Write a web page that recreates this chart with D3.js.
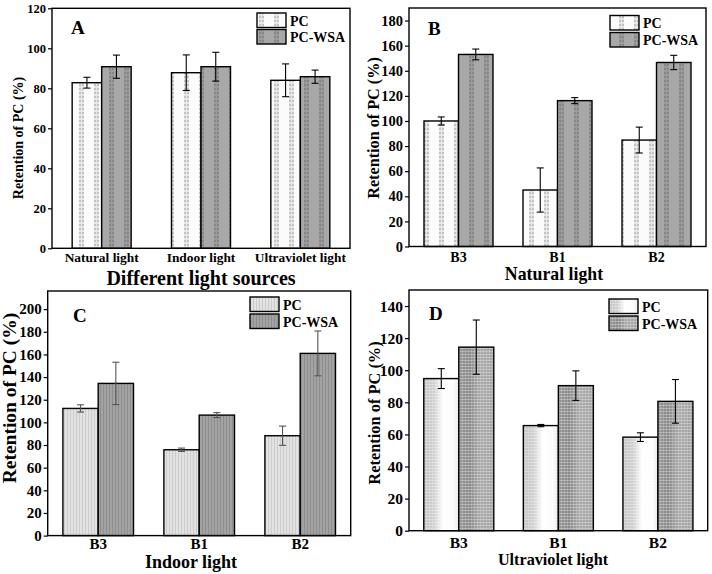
<!DOCTYPE html>
<html>
<head>
<meta charset="utf-8">
<script src="https://cdn.jsdelivr.net/npm/d3@7"></script>
<style>
html,body{margin:0;padding:0;background:#fff;}
svg{display:block;}
text{font-family:"Liberation Serif","Times New Roman",serif;font-weight:bold;fill:#000;}
</style>
</head>
<body>
<svg id="chart" width="712" height="574"></svg>
<script>
// ---------- DATA ----------
const seriesNames = ["PC", "PC-WSA"];

const catA = ["Natural light", "Indoor light", "Ultraviolet light"];
const pcA = [82.8, 87.8, 84.0];
const pcErrA = [2.7, 8.9, 8.2];
const wsaA = [90.8, 90.8, 85.8];
const wsaErrA = [5.8, 7.2, 3.3];
const ticksA = [0, 20, 40, 60, 80, 100, 120];

const catB = ["B3", "B1", "B2"];
const pcB = [100.0, 45.0, 84.8];
const pcErrB = [3.2, 17.6, 10.3];
const wsaB = [153.0, 116.2, 146.6];
const wsaErrB = [4.3, 2.4, 5.7];
const ticksB = [0, 20, 40, 60, 80, 100, 120, 140, 160, 180];

const catC = ["B3", "B1", "B2"];
const pcC = [112.3, 75.8, 88.2];
const pcErrC = [3.2, 1.5, 8.5];
const wsaC = [134.4, 106.4, 160.9];
const wsaErrC = [18.7, 2.2, 19.8];
const ticksC = [0, 20, 40, 60, 80, 100, 120, 140, 160, 180, 200];

const catD = ["B3", "B1", "B2"];
const pcD = [94.8, 65.5, 58.3];
const pcErrD = [6.2, 0.7, 2.7];
const wsaD = [114.4, 90.4, 80.6];
const wsaErrD = [16.9, 9.2, 13.6];
const ticksD = [0, 20, 40, 60, 80, 100, 120, 140];

// ---------- SETUP ----------
const FONT = '"Liberation Serif","Times New Roman",serif';
const svg = d3.select("#chart");
const defs = svg.append("defs");

// Patterns for A/B style (dashed vertical columns)
function dashPattern(id, base, dark, mid) {
  const p = defs.append("pattern").attr("id", id).attr("patternUnits", "userSpaceOnUse")
    .attr("width", 15).attr("height", 4);
  p.append("rect").attr("width", 15).attr("height", 4).attr("fill", base);
  p.append("rect").attr("x", 4).attr("y", 0).attr("width", 5).attr("height", 2).attr("fill", dark);
  p.append("rect").attr("x", 4).attr("y", 2).attr("width", 5).attr("height", 2).attr("fill", mid);
  p.append("rect").attr("x", 6).attr("y", 0).attr("width", 1).attr("height", 4).attr("fill", mid);
}
dashPattern("pcAB", "#fbfbfb", "#c2c2c2", "#e6e6e6");
dashPattern("wsaAB", "#a8a8a8", "#868686", "#9a9a9a");

// Patterns for C (fine vertical lines)
function finePattern(id, base, line) {
  const p = defs.append("pattern").attr("id", id).attr("patternUnits", "userSpaceOnUse")
    .attr("width", 3).attr("height", 2);
  p.append("rect").attr("width", 3).attr("height", 2).attr("fill", base);
  p.append("rect").attr("x", 1).attr("width", 1).attr("height", 2).attr("fill", line);
  p.append("rect").attr("x", 0).attr("y", 1).attr("width", 3).attr("height", 0.5).attr("fill", line).attr("opacity", 0.3);
}
finePattern("pcC", "#e4e4e4", "#cccccc");
finePattern("wsaC", "#a4a4a4", "#8e8e8e");

// Gradients + dots for D
function grad(id, stops) {
  const g = defs.append("linearGradient").attr("id", id)
    .attr("x1", 0).attr("x2", 1).attr("y1", 0).attr("y2", 0);
  stops.forEach(s => g.append("stop").attr("offset", s[0]).attr("stop-color", s[1]));
}
grad("pcDg", [[0, "#c4c4c4"], [0.3, "#d0d0d0"], [0.55, "#ffffff"], [0.85, "#fbfbfb"], [1, "#e6e6e6"]]);
grad("wsaDg", [[0, "#969696"], [0.3, "#8a8a8a"], [0.6, "#aaaaaa"], [1, "#a4a4a4"]]);
(function () {
  const p = defs.append("pattern").attr("id", "dotsD").attr("patternUnits", "userSpaceOnUse")
    .attr("width", 3).attr("height", 3);
  p.append("rect").attr("width", 3).attr("height", 1).attr("fill", "#fff").attr("opacity", 0.3);
  p.append("rect").attr("width", 1).attr("height", 3).attr("fill", "#fff").attr("opacity", 0.18);
})();

// ---------- PANEL DRAWER ----------
function drawPanel(cfg) {
  const g = svg.append("g");
  const x = d3.scaleBand().domain(cfg.cats).range([cfg.x0, cfg.x1]).padding(0);
  const y = d3.scaleLinear().domain([0, cfg.ymax]).range([cfg.y1, cfg.y0]);
  const bw = cfg.barW;

  const series = [
    { vals: cfg.pc, errs: cfg.pcErr, fill: cfg.fills[0], off: -1 },
    { vals: cfg.wsa, errs: cfg.wsaErr, fill: cfg.fills[1], off: 0 }
  ];

  series.forEach((s) => {
    const data = cfg.cats.map((c, i) => ({ c, v: s.vals[i], e: s.errs[i] }));
    const bx = d => x(d.c) + x.bandwidth() / 2 + s.off * bw;
    g.selectAll(null).data(data).enter().append("rect")
      .attr("x", bx).attr("width", bw)
      .attr("y", d => y(d.v)).attr("height", d => y(0) - y(d.v))
      .attr("fill", s.fill);
    if (cfg.overlay) {
      g.selectAll(null).data(data).enter().append("rect")
        .attr("x", bx).attr("width", bw)
        .attr("y", d => y(d.v)).attr("height", d => y(0) - y(d.v))
        .attr("fill", cfg.overlay);
    }
    g.selectAll(null).data(data).enter().append("rect")
      .attr("x", bx).attr("width", bw)
      .attr("y", d => y(d.v)).attr("height", d => y(0) - y(d.v))
      .attr("fill", "none").attr("stroke", "#000").attr("stroke-width", 1.4);
    // error bars
    const cx = d => bx(d) + bw / 2;
    const eg = g.append("g").attr("stroke", cfg.errColor).attr("stroke-width", 1.1);
    data.forEach(d => {
      eg.append("line").attr("x1", cx(d)).attr("x2", cx(d)).attr("y1", y(d.v + d.e)).attr("y2", y(d.v - d.e));
      eg.append("line").attr("x1", cx(d) - 3.5).attr("x2", cx(d) + 3.5).attr("y1", y(d.v + d.e)).attr("y2", y(d.v + d.e));
      eg.append("line").attr("x1", cx(d) - 3.5).attr("x2", cx(d) + 3.5).attr("y1", y(d.v - d.e)).attr("y2", y(d.v - d.e));
    });
  });

  // frame
  g.append("rect").attr("x", cfg.x0).attr("y", cfg.y0)
    .attr("width", cfg.x1 - cfg.x0).attr("height", cfg.y1 - cfg.y0)
    .attr("fill", "none").attr("stroke", "#000").attr("stroke-width", 1.4);

  // y axis
  const ya = g.append("g").attr("transform", `translate(${cfg.x0},0)`)
    .call(d3.axisLeft(y).tickValues(cfg.ticks).tickSize(4).tickPadding(2).tickFormat(d3.format("d")));
  ya.select(".domain").remove();
  ya.selectAll("line").attr("stroke", "#000").attr("stroke-width", 1.2);
  ya.selectAll("text").style("font-size", cfg.tickFont + "px").style("font-family", FONT)
    .style("font-weight", "bold").attr("fill", "#000");

  // x axis labels
  const xa = g.append("g").attr("transform", `translate(0,${cfg.y1})`)
    .call(d3.axisBottom(x).tickSize(0).tickPadding(0));
  xa.select(".domain").remove();
  xa.selectAll("text").attr("dy", null).attr("y", cfg.xTickBase - cfg.y1)
    .style("font-size", cfg.xTickFont + "px").style("font-family", FONT)
    .style("font-weight", "bold").attr("fill", "#000");

  // x title
  g.append("text").attr("x", cfg.xTitleX).attr("y", cfg.xTitleY).attr("text-anchor", "middle")
    .style("font-size", cfg.xTitleFont + "px").text(cfg.xTitle);

  // y title
  g.append("text").attr("transform", `translate(${cfg.yTitleX},${cfg.yTitleY}) rotate(-90)`)
    .attr("text-anchor", "middle").style("font-size", cfg.yTitleFont + "px").text("Retention of PC (%)");

  // panel letter
  g.append("text").attr("x", cfg.letterX).attr("y", cfg.letterY)
    .style("font-size", "19px").text(cfg.letter);

  // legend
  seriesNames.forEach((n, i) => {
    const ly = cfg.legY + i * cfg.legStep;
    g.append("rect").attr("x", cfg.legX).attr("y", ly).attr("width", 29).attr("height", 14.5)
      .attr("fill", cfg.fills[i]);
    if (cfg.overlay) g.append("rect").attr("x", cfg.legX).attr("y", ly).attr("width", 29).attr("height", 14.5).attr("fill", cfg.overlay);
    g.append("rect").attr("x", cfg.legX).attr("y", ly).attr("width", 29).attr("height", 14.5)
      .attr("fill", "none").attr("stroke", "#000").attr("stroke-width", 1.4);
    g.append("text").attr("x", cfg.legX + 33).attr("y", ly + 12.5)
      .style("font-size", "14px").text(n);
  });
  return g;
}

drawPanel({
  cats: catA, pc: pcA, pcErr: pcErrA, wsa: wsaA, wsaErr: wsaErrA, ticks: ticksA, ymax: 120,
  x0: 52, x1: 350, y0: 8.3, y1: 248.3, barW: 29.5,
  fills: ["url(#pcAB)", "url(#wsaAB)"], errColor: "#000",
  tickFont: 12.5, xTickFont: 13.4, xTickBase: 262,
  xTitle: "Different light sources", xTitleX: 201, xTitleY: 285, xTitleFont: 20,
  yTitleX: 23, yTitleY: 138, yTitleFont: 14,
  letter: "A", letterX: 71, letterY: 34,
  legX: 257, legY: 13, legStep: 16.5
});

drawPanel({
  cats: catB, pc: pcB, pcErr: pcErrB, wsa: wsaB, wsaErr: wsaErrB, ticks: ticksB, ymax: 190,
  x0: 409, x1: 706, y0: 8, y1: 246.5, barW: 34.5,
  fills: ["url(#pcAB)", "url(#wsaAB)"], errColor: "#000",
  tickFont: 14.5, xTickFont: 14, xTickBase: 261.5,
  xTitle: "Natural light", xTitleX: 554, xTitleY: 280, xTitleFont: 17.8,
  yTitleX: 379, yTitleY: 128, yTitleFont: 16.2,
  letter: "B", letterX: 428, letterY: 35,
  legX: 610, legY: 15.5, legStep: 17
});

drawPanel({
  cats: catC, pc: pcC, pcErr: pcErrC, wsa: wsaC, wsaErr: wsaErrC, ticks: ticksC, ymax: 216,
  x0: 47.7, x1: 350.7, y0: 291, y1: 535.6, barW: 35.3,
  fills: ["url(#pcC)", "url(#wsaC)"], errColor: "#555",
  tickFont: 15, xTickFont: 15, xTickBase: 549.5,
  xTitle: "Indoor light", xTitleX: 191, xTitleY: 568, xTitleFont: 18,
  yTitleX: 16, yTitleY: 398, yTitleFont: 19.5,
  letter: "C", letterX: 73, letterY: 322,
  legX: 250, legY: 297, legStep: 17
});

drawPanel({
  cats: catD, pc: pcD, pcErr: pcErrD, wsa: wsaD, wsaErr: wsaErrD, ticks: ticksD, ymax: 150,
  x0: 409, x1: 707.7, y0: 290, y1: 530.7, barW: 35,
  fills: ["url(#pcDg)", "url(#wsaDg)"], overlay: "url(#dotsD)", errColor: "#000",
  tickFont: 15.5, xTickFont: 15.5, xTickBase: 548,
  xTitle: "Ultraviolet light", xTitleX: 553, xTitleY: 565, xTitleFont: 16.2,
  yTitleX: 380, yTitleY: 413, yTitleFont: 16.4,
  letter: "D", letterX: 429, letterY: 320,
  legX: 609, legY: 299, legStep: 17
});
</script>
</body>
</html>
